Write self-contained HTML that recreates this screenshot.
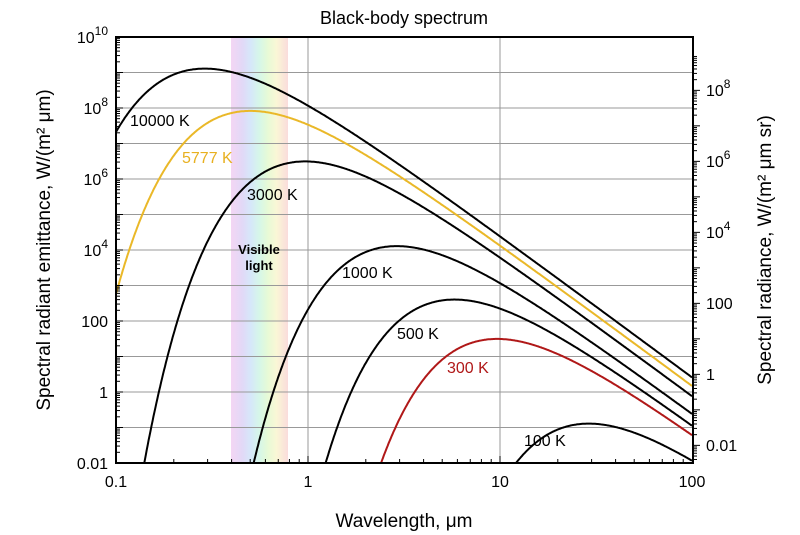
<!DOCTYPE html>
<html><head><meta charset="utf-8"><style>
html,body{margin:0;padding:0;background:#fff;}
svg{display:block;font-family:"Liberation Sans",Arial,sans-serif;}
</style></head><body>
<svg id="s" width="800" height="535" viewBox="0 0 800 535">
<defs>
<linearGradient id="vis" x1="0" x2="1" y1="0" y2="0">
<stop offset="0" stop-color="#f0c8f0"/>
<stop offset="0.2" stop-color="#d8ccf4"/>
<stop offset="0.35" stop-color="#c8e0f8"/>
<stop offset="0.5" stop-color="#c8f4e0"/>
<stop offset="0.65" stop-color="#e0f8c8"/>
<stop offset="0.8" stop-color="#f8f4c8"/>
<stop offset="1" stop-color="#f8d0d0"/>
</linearGradient>
<clipPath id="c"><rect x="116" y="37" width="577" height="426"/></clipPath>
</defs>
<rect x="231" y="37" width="57" height="426" fill="url(#vis)" opacity="0.75"/>
<g id="grid" stroke="#999" stroke-width="1"></g>
<g id="curves" clip-path="url(#c)" fill="none" stroke-width="2"></g>
<rect x="116" y="37" width="577" height="426" fill="none" stroke="#000" stroke-width="2"/>
<g id="ticks" stroke="#000" stroke-width="1"></g>
<g font-size="16" fill="#000">
<text x="404" y="24" text-anchor="middle" font-size="18">Black-body spectrum</text>
<text x="404" y="527" text-anchor="middle" font-size="19">Wavelength, μm</text>
<text x="116" y="487" text-anchor="middle">0.1</text>
<text x="308" y="487" text-anchor="middle">1</text>
<text x="500" y="487" text-anchor="middle">10</text>
<text x="692" y="487" text-anchor="middle">100</text>
<g text-anchor="end">
<text x="108" y="43">10<tspan dy="-8" font-size="12">10</tspan></text>
<text x="108" y="114">10<tspan dy="-8" font-size="12">8</tspan></text>
<text x="108" y="185">10<tspan dy="-8" font-size="12">6</tspan></text>
<text x="108" y="256">10<tspan dy="-8" font-size="12">4</tspan></text>
<text x="108" y="327">100</text>
<text x="108" y="398">1</text>
<text x="108" y="469">0.01</text>
</g>
<text x="706" y="96">10<tspan dy="-8" font-size="12">8</tspan></text>
<text x="706" y="167">10<tspan dy="-8" font-size="12">6</tspan></text>
<text x="706" y="238">10<tspan dy="-8" font-size="12">4</tspan></text>
<text x="706" y="309">100</text>
<text x="706" y="380">1</text>
<text x="706" y="451">0.01</text>
<text transform="translate(50,250) rotate(-90)" text-anchor="middle" font-size="19">Spectral radiant emittance, W/(m² μm)</text>
<text transform="translate(771,250) rotate(-90)" text-anchor="middle" font-size="19">Spectral radiance, W/(m² μm sr)</text>
<text x="130" y="126">10000 K</text>
<text x="182" y="163" fill="#e8b020">5777 K</text>
<text x="247" y="200">3000 K</text>
<text x="342" y="278">1000 K</text>
<text x="397" y="339">500 K</text>
<text x="447" y="373" fill="#b01818">300 K</text>
<text x="524" y="446">100 K</text>
<text x="259" y="254" font-size="13" font-weight="bold" text-anchor="middle">Visible</text>
<text x="259" y="270" font-size="13" font-weight="bold" text-anchor="middle">light</text>
</g>
</svg>
<script>
var ns="http://www.w3.org/2000/svg";
function X(l){return 116+192*(Math.log10(l)+1);}
function Y(v){return 37+(10-Math.log10(v))*35.5;}
function el(p,t,a){var e=document.createElementNS(ns,t);for(var k in a)e.setAttribute(k,a[k]);p.appendChild(e);return e;}
var g=document.getElementById('grid'),tk=document.getElementById('ticks'),cv=document.getElementById('curves');
for(var d=-1;d<=9;d++){var y=Y(Math.pow(10,d));el(g,'line',{x1:116,x2:693,y1:y,y2:y});}
[1,10].forEach(function(l){el(g,'line',{x1:X(l),x2:X(l),y1:37,y2:463});});
for(var d=-2;d<10;d++)for(var m=1;m<10;m++){var y=Y(m*Math.pow(10,d));var L=m==1?7:4;el(tk,'line',{x1:116,x2:116+L,y1:y,y2:y});}
for(var d=-3;d<9;d++)for(var m=1;m<10;m++){var v=m*Math.pow(10,d)*Math.PI;var y=Y(v);if(y<37||y>463)continue;var L=m==1?7:4;el(tk,'line',{x1:693,x2:693+L,y1:y,y2:y});}
for(var d=-1;d<2;d++)for(var m=1;m<10;m++){var x=X(m*Math.pow(10,d));var L=m==1?7:4;el(tk,'line',{x1:x,x2:x,y1:463,y2:463-L});}
var T=[[10000,'#000'],[5777,'#eab828'],[3000,'#000'],[1000,'#000'],[500,'#000'],[300,'#b01818'],[100,'#000']];
T.forEach(function(t){var p='',first=true;for(var i=0;i<=600;i++){var l=Math.pow(10,-1+3*i/600);var M=3.7418e8/Math.pow(l,5)/(Math.exp(14388/(l*t[0]))-1);if(!(M>1e-4))continue;var y=Y(M);p+=(first?'M':'L')+X(l).toFixed(1)+','+y.toFixed(1);first=false;}el(cv,'path',{d:p,stroke:t[1]});});
</script>
</body></html>
